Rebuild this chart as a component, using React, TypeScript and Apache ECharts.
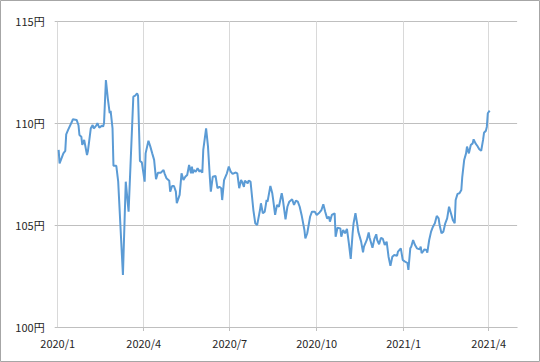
import React, { useEffect, useRef } from "react";
import * as echarts from "echarts";

// ---- data (USD/JPY) ----
const dates: string[] = [
  "2020-01-02","2020-01-03","2020-01-07","2020-01-09","2020-01-10","2020-01-12","2020-01-16","2020-01-17",
  "2020-01-21","2020-01-23","2020-01-24","2020-01-26","2020-01-27","2020-01-29","2020-02-01","2020-02-02",
  "2020-02-05","2020-02-07","2020-02-08","2020-02-09","2020-02-11","2020-02-12","2020-02-14","2020-02-17",
  "2020-02-18","2020-02-19","2020-02-21","2020-02-23","2020-02-25","2020-02-26","2020-02-28","2020-02-29",
  "2020-03-03","2020-03-05","2020-03-10","2020-03-13","2020-03-16","2020-03-21","2020-03-23","2020-03-25",
  "2020-03-26","2020-03-28","2020-03-30","2020-04-02","2020-04-03","2020-04-06","2020-04-08","2020-04-10",
  "2020-04-12","2020-04-14","2020-04-16","2020-04-19","2020-04-22","2020-04-23","2020-04-25","2020-04-28",
  "2020-04-29","2020-05-01","2020-05-03","2020-05-05","2020-05-06","2020-05-09","2020-05-11","2020-05-13",
  "2020-05-15","2020-05-17","2020-05-19","2020-05-21","2020-05-22","2020-05-23","2020-05-24","2020-05-26",
  "2020-05-28","2020-05-30","2020-05-31","2020-06-02","2020-06-03","2020-06-06","2020-06-08","2020-06-10",
  "2020-06-11","2020-06-13","2020-06-16","2020-06-18","2020-06-20","2020-06-22","2020-06-23","2020-06-25",
  "2020-06-28","2020-06-30","2020-07-02","2020-07-04","2020-07-07","2020-07-09","2020-07-11","2020-07-13",
  "2020-07-14","2020-07-16","2020-07-17","2020-07-20","2020-07-21","2020-07-23","2020-07-26","2020-07-28",
  "2020-07-30","2020-08-02","2020-08-03","2020-08-05","2020-08-07","2020-08-09","2020-08-10","2020-08-13",
  "2020-08-15","2020-08-16","2020-08-18","2020-08-20","2020-08-22","2020-08-25","2020-08-26","2020-08-29",
  "2020-08-31","2020-09-02","2020-09-05","2020-09-07","2020-09-09","2020-09-11","2020-09-13","2020-09-15",
  "2020-09-18","2020-09-19","2020-09-21","2020-09-24","2020-09-26","2020-09-29","2020-10-01","2020-10-04",
  "2020-10-06","2020-10-08","2020-10-10","2020-10-12","2020-10-14","2020-10-15","2020-10-17","2020-10-20",
  "2020-10-21","2020-10-23","2020-10-26","2020-10-27","2020-10-29","2020-10-31","2020-11-02","2020-11-04",
  "2020-11-06","2020-11-08","2020-11-09","2020-11-11","2020-11-13","2020-11-14","2020-11-17","2020-11-19",
  "2020-11-20","2020-11-23","2020-11-25","2020-11-26","2020-11-29","2020-12-01","2020-12-03","2020-12-04",
  "2020-12-06","2020-12-08","2020-12-10","2020-12-12","2020-12-14","2020-12-16","2020-12-18","2020-12-20",
  "2020-12-22","2020-12-25","2020-12-26","2020-12-29","2020-12-31","2021-01-02","2021-01-05","2021-01-06",
  "2021-01-08","2021-01-09","2021-01-11","2021-01-13","2021-01-15","2021-01-18","2021-01-19","2021-01-20",
  "2021-01-22","2021-01-23","2021-01-25","2021-01-26","2021-01-28","2021-01-30","2021-02-01","2021-02-03",
  "2021-02-05","2021-02-07","2021-02-08","2021-02-10","2021-02-12","2021-02-14","2021-02-16","2021-02-18",
  "2021-02-20","2021-02-22","2021-02-24","2021-02-25","2021-02-27","2021-03-01","2021-03-03","2021-03-04",
  "2021-03-06","2021-03-08","2021-03-09","2021-03-11","2021-03-13","2021-03-15","2021-03-16","2021-03-18",
  "2021-03-20","2021-03-22","2021-03-24","2021-03-26","2021-03-27","2021-03-29","2021-03-30","2021-03-31",
  "2021-04-02",
];

const rates: number[] = [
  108.69,108.03,108.52,108.64,109.45,109.67,110.07,110.19,
  110.16,109.9,109.42,109.34,108.93,109.18,108.44,108.64,
  109.75,109.91,109.75,109.78,109.9,110.0,109.78,109.88,
  109.83,110.0,112.12,111.22,110.49,110.6,109.75,107.91,
  107.91,107.13,102.55,107.13,105.66,111.3,111.35,111.47,
  111.35,108.15,108.08,107.13,108.52,109.14,108.85,108.52,
  108.2,107.25,107.57,107.57,107.7,107.54,107.3,107.18,
  106.64,106.92,106.92,106.64,106.07,106.48,107.54,107.21,
  107.37,107.46,107.95,107.54,107.87,107.54,107.7,107.62,
  107.79,107.62,107.7,107.57,108.69,109.75,108.85,107.3,
  106.64,107.37,107.41,106.81,106.88,106.81,106.23,107.21,
  107.54,107.87,107.62,107.51,107.58,107.54,106.81,107.21,
  107.13,106.88,107.18,107.05,107.18,107.13,105.74,105.09,
  105.0,105.74,106.07,105.58,105.66,106.23,106.15,106.92,
  106.56,106.23,105.5,105.99,105.9,106.56,106.32,105.28,
  105.9,106.15,106.27,105.99,106.2,106.15,105.9,105.5,
  104.76,104.35,104.6,105.41,105.66,105.66,105.5,105.62,
  105.74,106.02,105.66,105.33,105.41,105.17,105.5,105.58,
  104.43,104.87,104.84,104.43,104.76,104.6,104.81,104.11,
  103.34,104.6,105.09,105.58,105.01,104.68,104.19,103.66,
  103.94,104.27,104.64,104.38,103.89,104.32,104.55,104.27,
  104.06,104.38,104.32,104.02,104.19,103.45,103.0,103.45,
  103.53,103.5,103.7,103.86,103.29,103.22,103.14,102.8,
  103.86,103.94,104.27,104.02,103.86,103.81,103.94,103.62,
  103.74,103.81,103.78,103.65,104.27,104.68,104.92,105.09,
  105.45,105.33,105.0,104.6,104.68,105.09,105.33,105.9,
  105.58,105.25,105.09,106.23,106.53,106.56,106.72,107.37,
  108.19,108.52,108.85,108.52,108.93,109.01,109.21,109.01,
  108.88,108.72,108.65,109.18,109.53,109.63,109.83,110.49,
  110.62,
];

// x-axis calendar (one category per day) and the quarter ticks
const axisStart = "2020-01-01";
const axisEnd = "2021-05-01";
const tickDates: string[] = ["2020-01-01", "2020-04-01", "2020-07-01", "2020-10-01", "2021-01-01", "2021-04-01"];
const tickLabels: string[] = ["2020/1", "2020/4", "2020/7", "2020/10", "2021/1", "2021/4"];

// y axis
const yMin = 100;
const yMax = 115;
const yStep = 5;
const yUnit = "円";

function buildCalendar(start: string, end: string): string[] {
  const out: string[] = [];
  let t = Date.parse(start + "T00:00:00Z");
  const e = Date.parse(end + "T00:00:00Z");
  while (t <= e) {
    out.push(new Date(t).toISOString().slice(0, 10));
    t += 86400000;
  }
  return out;
}

const categories = buildCalendar(axisStart, axisEnd);

export default function App() {
  const ref = useRef<HTMLDivElement>(null);

  useEffect(() => {
    document.body.style.margin = "0";
    if (!ref.current) return;
    const chart = echarts.init(ref.current, null, { renderer: "svg" });
    const isTick = (_i: number, v: string) => tickDates.indexOf(v) >= 0;
    const font = '"Noto Sans CJK JP", "Noto Sans", sans-serif';

    chart.setOption({
      animation: false,
      backgroundColor: "#ffffff",
      grid: { left: 57.7, right: 22.9, top: 21.3, bottom: 35, containLabel: false },
      graphic: [
        {
          type: "rect",
          shape: { x: 0.5, y: 0.5, width: 539, height: 361 },
          style: { fill: "none", stroke: "#a6a6a6", lineWidth: 1 },
          silent: true,
          z: 100,
        },
      ],
      xAxis: {
        type: "category",
        data: categories,
        boundaryGap: false,
        axisLine: { show: true, lineStyle: { color: "#bfbfbf", width: 1 } },
        axisTick: {
          show: true,
          interval: (i: number, v: string) => i > 0 && isTick(i, v),
          length: 4,
          lineStyle: { color: "#bfbfbf" },
        },
        axisLabel: {
          interval: isTick,
          formatter: (v: string) => tickLabels[tickDates.indexOf(v)] ?? "",
          color: "#262626",
          fontFamily: font,
          fontSize: 11,
          margin: 10,
        },
        splitLine: {
          show: true,
          interval: isTick,
          lineStyle: { color: "#d9d9d9", width: 1 },
        },
      },
      yAxis: {
        type: "value",
        min: yMin,
        max: yMax,
        interval: yStep,
        axisLine: { show: true, lineStyle: { color: "#d9d9d9", width: 1 } },
        axisTick: { show: true, length: 3, lineStyle: { color: "#bfbfbf" } },
        axisLabel: {
          formatter: (v: number) => `${v}${yUnit}`,
          color: "#262626",
          fontFamily: font,
          fontSize: 11,
          margin: 13,
        },
        splitLine: { show: true, lineStyle: { color: "#bfbfbf", width: 1 } },
      },
      series: [
        {
          type: "line",
          data: dates.map((d, i) => [d, rates[i]]),
          showSymbol: false,
          symbol: "none",
          lineStyle: { color: "#5b9bd5", width: 2 },
          itemStyle: { color: "#5b9bd5" },
        },
      ],
    });

    return () => chart.dispose();
  }, []);

  return <div ref={ref} style={{ width: 540, height: 362 }} />;
}
